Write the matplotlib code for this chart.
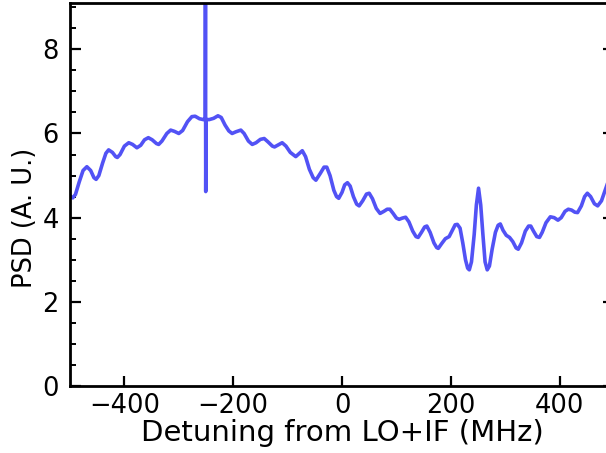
import matplotlib
matplotlib.use("Agg")
import matplotlib.pyplot as plt
from matplotlib.ticker import MultipleLocator

detuning_mhz = [
    -500, -495, -490, -483, -476, -469, -462, -456, -452, -447, -440, -434, -429, -422, -416, -413,
    -408, -400, -392, -385, -377, -370, -363, -356, -349, -341, -337, -331, -322, -315, -308, -300,
    -293, -284, -276, -270, -262, -255, -251.5, -251, -250.5, -250, -244, -236, -228, -222, -215,
    -208, -202, -195, -186, -180, -172, -165, -158, -150, -143, -136, -128, -124, -117, -110, -103,
    -95, -85, -79, -73, -67, -60, -53, -48, -40, -33, -28, -22, -15, -10, -6, 0, 5, 10, 15, 21, 27,
    31.5, 38, 45, 50, 56, 63, 70, 77, 83, 88, 94, 100, 105, 111, 117, 123, 130, 136, 140, 146, 152,
    156, 162, 169, 174, 177, 183, 190, 197, 203, 208, 212, 217, 222, 227, 231, 234, 238, 243, 247,
    251, 255, 259, 263, 267, 271, 276, 282, 287, 291, 296, 302, 308, 314, 320, 324, 330, 337, 343,
    347, 352, 358, 363, 368, 375, 383, 390, 397, 403, 410, 416, 422, 428, 433, 440, 446, 451, 457,
    464, 470, 477, 483, 489, 495, 500,
]
psd_au = [
    4.52, 4.47, 4.55, 4.85, 5.12, 5.21, 5.12, 4.95, 4.91, 5.00, 5.30, 5.53, 5.61, 5.55, 5.45, 5.43,
    5.50, 5.70, 5.78, 5.74, 5.66, 5.72, 5.85, 5.90, 5.85, 5.76, 5.74, 5.82, 6.00, 6.08, 6.05, 6.00,
    6.07, 6.28, 6.40, 6.41, 6.35, 6.33, 6.33, 9.50, 4.62, 6.33, 6.33, 6.36, 6.42, 6.38, 6.20,
    6.06, 6.00, 6.04, 6.08, 6.00, 5.82, 5.74, 5.78, 5.86, 5.88, 5.80, 5.70, 5.68, 5.73, 5.78, 5.70,
    5.55, 5.45, 5.52, 5.59, 5.45, 5.15, 4.95, 4.89, 5.05, 5.20, 5.20, 5.00, 4.65, 4.50, 4.46, 4.60,
    4.78, 4.83, 4.75, 4.50, 4.32, 4.28, 4.40, 4.56, 4.58, 4.45, 4.22, 4.10, 4.15, 4.20, 4.20, 4.10,
    3.99, 3.96, 3.99, 4.01, 3.90, 3.68, 3.55, 3.53, 3.65, 3.78, 3.80, 3.65, 3.40, 3.29, 3.27, 3.38,
    3.50, 3.55, 3.70, 3.83, 3.84, 3.75, 3.40, 3.00, 2.80, 2.76, 2.95, 3.60, 4.30, 4.70, 4.30, 3.60,
    2.95, 2.76, 2.85, 3.25, 3.65, 3.82, 3.85, 3.70, 3.58, 3.53, 3.43, 3.28, 3.25, 3.40, 3.68, 3.80,
    3.80, 3.68, 3.55, 3.53, 3.65, 3.88, 4.02, 4.00, 3.94, 4.00, 4.15, 4.20, 4.18, 4.13, 4.12, 4.28,
    4.50, 4.58, 4.50, 4.33, 4.28, 4.40, 4.62, 4.85, 5.00, 5.10,
]

fig = plt.figure(figsize=(6.06, 4.53), dpi=100)
ax = fig.add_axes([70 / 606, 1 - 386 / 453, (614 - 70) / 606, (386 - 3) / 453])
ax.plot(detuning_mhz, psd_au, color="#5252f5", lw=2.6, solid_joinstyle="round")

ax.set_xlim(-500, 500)
ax.set_ylim(0, 9.1)
ax.xaxis.set_major_locator(MultipleLocator(200))
ax.yaxis.set_major_locator(MultipleLocator(2))
ax.yaxis.set_minor_locator(MultipleLocator(0.5))
for s in ax.spines.values():
    s.set_linewidth(2)
ax.tick_params(axis="x", which="both", direction="in", top=False, bottom=True,
               length=7, width=1.6, labelsize=18.5, pad=5)
ax.tick_params(axis="y", which="major", direction="in", left=True, right=True,
               length=8, width=1.6, labelsize=18.5, pad=8)
ax.tick_params(axis="y", which="minor", direction="in", left=True, right=True,
               length=4.5, width=1.4)
ax.set_xlabel("Detuning from LO+IF (MHz)", fontsize=21, labelpad=0)
ax.set_ylabel("PSD (A. U.)", fontsize=18.5)
ax.yaxis.set_label_coords(-0.058, 0.44)

fig.savefig("out.png", dpi=100)
